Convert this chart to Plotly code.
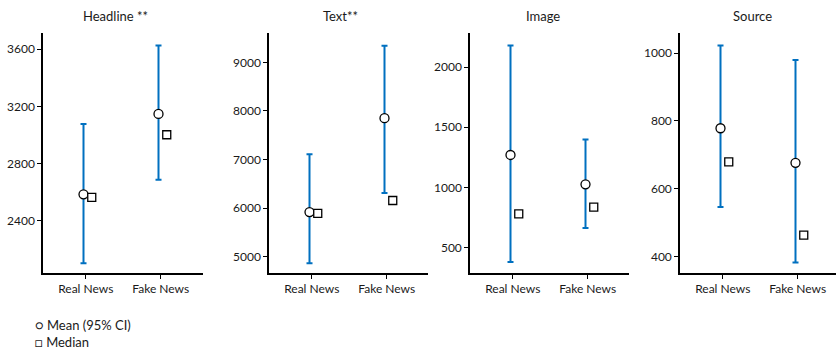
import plotly.graph_objects as go

categories = ["Real News", "Fake News"]
panel_titles = ["Headline **", "Text**", "Image", "Source"]

mean_headline = [2586, 3147]
ci_low_headline = [2105, 2688]
ci_high_headline = [3077, 3624]
median_headline = [2565, 3002]

mean_text = [5918, 7850]
ci_low_text = [4864, 6309]
ci_high_text = [7109, 9342]
median_text = [5890, 6157]

mean_image = [1269, 1025]
ci_low_image = [380, 663]
ci_high_image = [2180, 1397]
median_image = [780, 836]

mean_source = [778, 676]
ci_low_source = [546, 382]
ci_high_source = [1022, 979]
median_source = [679, 463]

yticks_headline = [2400, 2800, 3200, 3600]
yticks_text = [5000, 6000, 7000, 8000, 9000]
yticks_image = [500, 1000, 1500, 2000]
yticks_source = [400, 600, 800, 1000]

panels = [
    (mean_headline, ci_low_headline, ci_high_headline, median_headline, yticks_headline, [2037, 3712]),
    (mean_text, ci_low_text, ci_high_text, median_text, yticks_text, [4665, 9603]),
    (mean_image, ci_low_image, ci_high_image, median_image, yticks_image, [288, 2283]),
    (mean_source, ci_low_source, ci_high_source, median_source, yticks_source, [351, 1059]),
]

W, H = 836, 351
x_left = [43, 269, 470, 680]
x_right = [203, 428, 629, 836]
title_x = [115, 340, 543, 752]
top_px, bot_px = 33, 273

FONT = "Lato"
TXT = "#1a1a1a"
BLUE = "#0070C0"

fig = go.Figure()
layout = {}
annotations = []
for i, (mean, lo, hi, med, ticks, yr) in enumerate(panels):
    n = "" if i == 0 else str(i + 1)
    xa, ya = "x" + n, "y" + n
    xpos = list(range(len(categories)))
    fig.add_trace(go.Scatter(
        x=[p - 0.03 for p in xpos], y=mean, mode="markers",
        marker=dict(symbol="circle", size=9, color="white", line=dict(color="black", width=1.3)),
        error_y=dict(type="data", symmetric=False,
                     array=[h - m for h, m in zip(hi, mean)],
                     arrayminus=[m - l for m, l in zip(mean, lo)],
                     color=BLUE, thickness=2, width=3),
        xaxis=xa, yaxis=ya, showlegend=False, cliponaxis=False))
    fig.add_trace(go.Scatter(
        x=[p + 0.08 for p in xpos], y=med, mode="markers",
        marker=dict(symbol="square", size=8, color="white", line=dict(color="black", width=1.3)),
        xaxis=xa, yaxis=ya, showlegend=False, cliponaxis=False))
    span = x_right[i] - x_left[i]
    x0 = -0.57
    x1 = x0 + span / 75.0
    layout["xaxis" + n] = dict(
        domain=[x_left[i] / W, min(x_right[i] / W, 1.0)], range=[x0, x1],
        tickvals=xpos, ticktext=categories, showgrid=False, zeroline=False,
        showline=True, linecolor="black", linewidth=1.5, ticks="outside",
        ticklen=4, tickcolor="black", tickfont=dict(family=FONT, size=12, color=TXT),
        anchor=ya, fixedrange=True)
    layout["yaxis" + n] = dict(
        domain=[1 - bot_px / H, 1 - top_px / H], range=yr, tickvals=ticks,
        showgrid=False, zeroline=False, showline=True, linecolor="black", linewidth=1.5,
        ticks="outside", ticklen=4, tickcolor="black",
        tickfont=dict(family=FONT, size=12, color=TXT), anchor=xa, fixedrange=True)
    annotations.append(dict(text=panel_titles[i], x=title_x[i] / W, y=1 - 16 / H,
                            xref="paper", yref="paper", showarrow=False,
                            font=dict(family=FONT, size=13, color=TXT),
                            xanchor="center", yanchor="middle"))

annotations.append(dict(text="○ Mean (95% CI)", x=33 / W, y=1 - 325 / H, xref="paper", yref="paper",
                        showarrow=False, xanchor="left", yanchor="middle",
                        font=dict(family=FONT, size=13, color=TXT)))
annotations.append(dict(text="□ Median", x=33 / W, y=1 - 342 / H, xref="paper", yref="paper",
                        showarrow=False, xanchor="left", yanchor="middle",
                        font=dict(family=FONT, size=13, color=TXT)))

fig.update_layout(width=W, height=H, margin=dict(l=0, r=0, t=0, b=0),
                  plot_bgcolor="white", paper_bgcolor="white",
                  annotations=annotations, **layout)
fig.write_html("out.html", config={"displayModeBar": False},
               post_script="document.body.style.margin='0';document.body.style.overflow='hidden';")
